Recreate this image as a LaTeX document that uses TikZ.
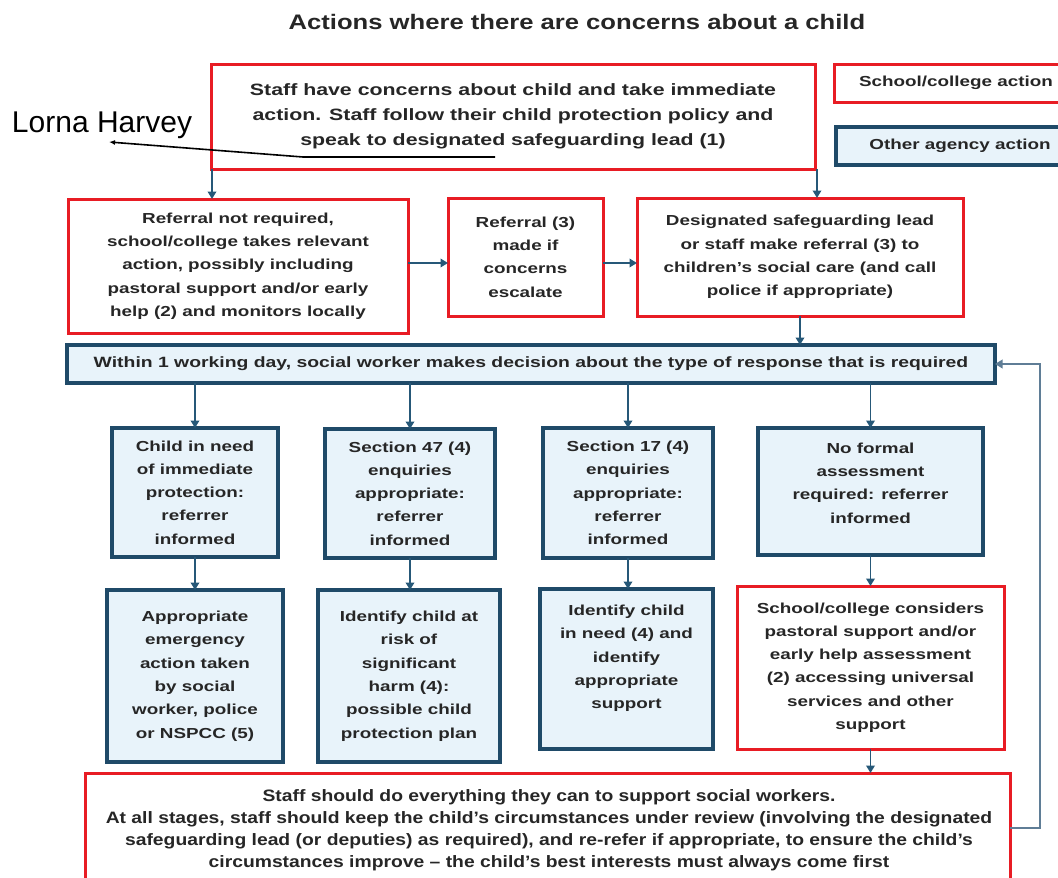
\documentclass[tikz,border=0pt]{standalone}
\usepackage{fontspec}
\setmainfont{Liberation Sans}
\newfontfamily\bx[FakeStretch=1.3]{Liberation Sans}
\newfontfamily\bxt[FakeStretch=1.22]{Liberation Sans}
\newfontfamily\bxn[FakeStretch=1.17]{Liberation Sans}
\usetikzlibrary{arrows.meta,calc}
\definecolor{rd}{RGB}{232,28,36}
\definecolor{bl}{RGB}{31,74,104}
\definecolor{blf}{RGB}{232,243,250}
\definecolor{ar}{RGB}{38,88,120}
\definecolor{tx}{RGB}{38,38,38}
\definecolor{lpc}{RGB}{95,125,150}
\begin{document}
\begin{tikzpicture}[x=1pt,y=-1pt,
  every node/.style={inner sep=0pt, outer sep=0pt},
  txt/.style={font={\bx\bfseries\fontsize{14.5}{23.3}\selectfont}},
  sbox/.style={draw=rd, line width=3pt, fill=white, align=center, text=tx, txt},
  abox/.style={draw=bl, line width=3.2pt, fill=blf, align=center, text=tx, txt},
  arr/.style={draw=ar, line width=1.8pt, -{Triangle[length=7.5pt,width=8.5pt]}},
]
\useasboundingbox (0,0) rectangle (1058,878);
\fill[white] (0,0) rectangle (1058,878);
\clip (0,0) rectangle (1058,878);

\node[font={\bxt\bfseries\fontsize{21}{25}\selectfont}, text=tx] (title) at (577,22) {Actions where there are concerns about a child};

% legend
\node[sbox, minimum width=244pt, minimum height=38pt] (leg1) at (956,83) {School/college action};
\node[abox, minimum width=248pt, minimum height=38pt] (leg2) at (960,146) {Other agency action};

% top
\node[sbox, minimum width=604pt, minimum height=105pt, font={\bx\bfseries\fontsize{16.4}{25}\selectfont}] (top) at (513,116.5)
  {Staff have concerns about child and take immediate\\action. Staff follow their child protection policy and\\speak to designated safeguarding lead (1)};

% row 2
\node[sbox, minimum width=340pt, minimum height=134pt] (A) at (238,266)
  {Referral not required,\\school/college takes relevant\\action, possibly including\\pastoral support and/or early\\help (2) and monitors locally};
\node[sbox, minimum width=155pt, minimum height=118pt] (B) at (525.5,257)
  {Referral (3)\\made if\\concerns\\escalate};
\node[sbox, minimum width=326pt, minimum height=118pt] (C) at (800,257)
  {Designated safeguarding lead\\or staff make referral (3) to\\children’s social care (and call\\police if appropriate)};

% decision
\node[abox, minimum width=928pt, minimum height=38pt, font={\bx\bfseries\fontsize{14.9}{23.3}\selectfont}] (dec) at (531,364)
  {Within 1 working day, social worker makes decision about the type of response that is required};

% row 3
\node[abox, minimum width=166pt, minimum height=129pt] (D1) at (195,492.5)
  {Child in need\\of immediate\\protection:\\referrer\\informed};
\node[abox, minimum width=170pt, minimum height=129pt] (D2) at (410,493.5)
  {Section 47 (4)\\enquiries\\appropriate:\\referrer\\informed};
\node[abox, minimum width=170pt, minimum height=130pt] (D3) at (628,493)
  {Section 17 (4)\\enquiries\\appropriate:\\referrer\\informed};
\node[abox, minimum width=225pt, minimum height=127pt] (D4) at (870.5,491.5)
  {No formal\\assessment\\required: referrer\\informed\\[-6pt]};

% row 4
\node[abox, minimum width=176pt, minimum height=172pt] (E1) at (195,676)
  {Appropriate\\emergency\\action taken\\by social\\worker, police\\or NSPCC (5)};
\node[abox, minimum width=182pt, minimum height=172pt] (E2) at (409,676)
  {Identify child at\\risk of\\significant\\harm (4):\\possible child\\protection plan};
\node[abox, minimum width=173pt, minimum height=160pt] (E3) at (626.5,669)
  {Identify child\\in need (4) and\\identify\\appropriate\\support\\[1pt]};
\node[sbox, minimum width=267pt, minimum height=163pt] (E4) at (870.5,667.5)
  {School/college considers\\pastoral support and/or\\early help assessment\\(2) accessing universal\\services and other\\support};

% bottom
\node[draw=rd, line width=3pt, fill=white, minimum width=925pt, minimum height=127pt] (bot) at (547.5,836.5) {};
\node[align=center, text=tx, font={\bxn\bfseries\fontsize{16.5}{22}\selectfont}] (bottxt) at (549,830)
  {Staff should do everything they can to support social workers.\\
   At all stages, staff should keep the child’s circumstances under review (involving the designated\\
   safeguarding lead (or deputies) as required), and re-refer if appropriate, to ensure the child’s\\
   circumstances improve – the child’s best interests must always come first};

% connectors
\draw[arr] ([xshift=1pt]top.south west) -- ([xshift=1pt]top.south west |- A.north);
\draw[arr] ([xshift=2pt]top.south east) -- ([xshift=2pt]top.south east |- C.north);
\draw[arr] ([yshift=3pt]A.east) -- ([yshift=3pt]A.east -| B.west);
\draw[arr] ([yshift=-6pt]B.east) -- ([yshift=-6pt]B.east -| C.west);
\draw[arr] (C.south) -- (C.south |- dec.north);
\draw[arr] (dec.south -| D1.north) -- (D1.north);
\draw[arr] (dec.south -| D2.north) -- (D2.north);
\draw[arr] (dec.south -| D3.north) -- (D3.north);
\draw[arr] (dec.south -| D4.north) -- (D4.north);
\draw[arr] (D1.south) -- (D1.south |- E1.north);
\draw[arr] (D2.south) -- (D2.south |- E2.north);
\draw[arr] (D3.south) -- (D3.south |- E3.north);
\draw[arr] (D4.south) -- (D4.south |- E4.north);
\draw[arr] (E4.south) -- (E4.south |- bot.north);

\coordinate (lp1) at (1040,828);
\coordinate (lp2) at (1040,364);
\draw[draw=lpc, line width=1.8pt, -{Triangle[length=7.5pt,width=8.5pt]}] (bot.east |- lp1) -- (lp1) -- (lp2) -- (dec.east |- lp2);

% annotation
\node[anchor=base west, font={\fontsize{30}{36}\selectfont}, text=black] (lh) at (12,132) {Lorna Harvey};
\coordinate (la1) at (495,157);
\coordinate (la2) at (303,157);
\coordinate (la3) at (109,142);
\draw[black, line width=1.6pt, -{Latex[length=6pt,width=5pt]}] (la1) -- (la2) -- (la3);
\end{tikzpicture}
\end{document}
